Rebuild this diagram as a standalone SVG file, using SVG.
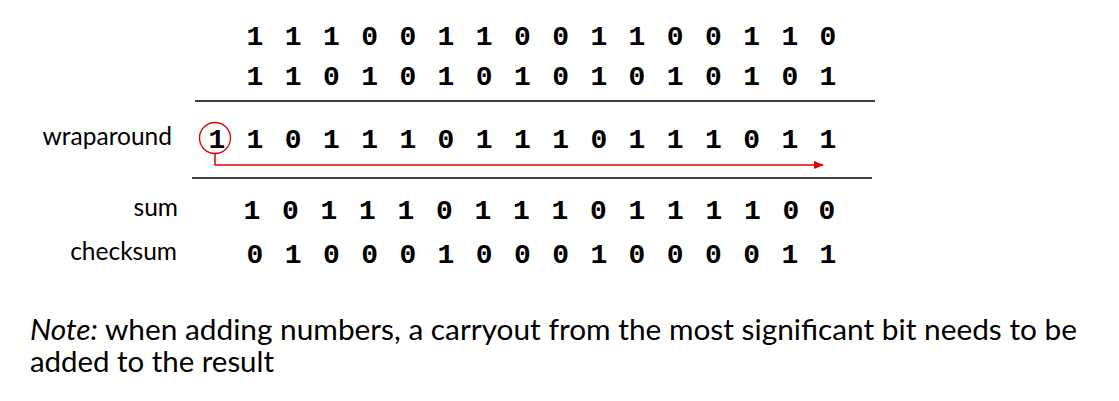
<svg xmlns="http://www.w3.org/2000/svg" width="1119" height="401" viewBox="0 0 1119 401">
<style>
.bits{font-family:"Liberation Mono","DejaVu Sans Mono",monospace;font-weight:bold;font-size:28px;fill:#000;text-anchor:middle}
.lbl{font-family:Lato,"Open Sans",sans-serif;font-size:24.5px;fill:#000;text-anchor:end}
.note{font-family:Lato,"Open Sans",sans-serif;font-size:28.5px;fill:#000}
.rule{stroke:#000;stroke-width:1.5}
</style>
<defs>
<marker id="ah" markerWidth="10" markerHeight="8" refX="9" refY="4" orient="auto" markerUnits="userSpaceOnUse">
<path d="M0,0 L10,4 L0,8 Z" fill="#e00000"/>
</marker>
</defs>
<rect width="1119" height="401" fill="#fff"/>
<g id="row1"><text class="bits" y="45" x="255 293.2 331.4 369.6 407.8 446 484.2 522.4 560.6 598.8 637 675.2 713.4 751.6 789.8 828">1110011001100110</text></g>
<g id="row2"><text class="bits" y="85" x="255 293.2 331.4 369.6 407.8 446 484.2 522.4 560.6 598.8 637 675.2 713.4 751.6 789.8 828">1101010101010101</text></g>
<line class="rule" x1="195" y1="101" x2="875" y2="101"/>
<g id="wrap">
<text class="lbl" x="172" y="145">wraparound</text>
<text class="bits" y="148" x="216.8 255 293.2 331.4 369.6 407.8 446 484.2 522.4 560.6 598.8 637 675.2 713.4 751.6 789.8 828">11011101110111011</text>
<circle cx="215" cy="138" r="15.5" fill="none" stroke="#e00000" stroke-width="1.3"/>
</g>
<g id="connectors">
<path d="M215,153.5 V165 H823" fill="none" stroke="#e00000" stroke-width="1.5" marker-end="url(#ah)"/>
</g>
<line class="rule" x1="192" y1="178" x2="872" y2="178"/>
<g id="sum">
<text class="lbl" x="178" y="216">sum</text>
<text class="bits" y="219" x="252 290.5 329 367.5 406 444.5 483 521.5 560 598.5 637 675.5 714 752.5 791 827">1011101110111100</text>
</g>
<g id="checksum">
<text class="lbl" x="177" y="260">checksum</text>
<text class="bits" y="263" x="255 293.2 331.4 369.6 407.8 446 484.2 522.4 560.6 598.8 637 675.2 713.4 751.6 789.8 828">0100010001000011</text>
</g>
<g id="note">
<text class="note" x="30" y="340" textLength="1047" lengthAdjust="spacingAndGlyphs"><tspan font-style="italic">Note:</tspan> when adding numbers, a carryout from the most significant bit needs to be</text>
<text class="note" x="30" y="372" textLength="244" lengthAdjust="spacingAndGlyphs">added to the result</text>
</g>
</svg>
